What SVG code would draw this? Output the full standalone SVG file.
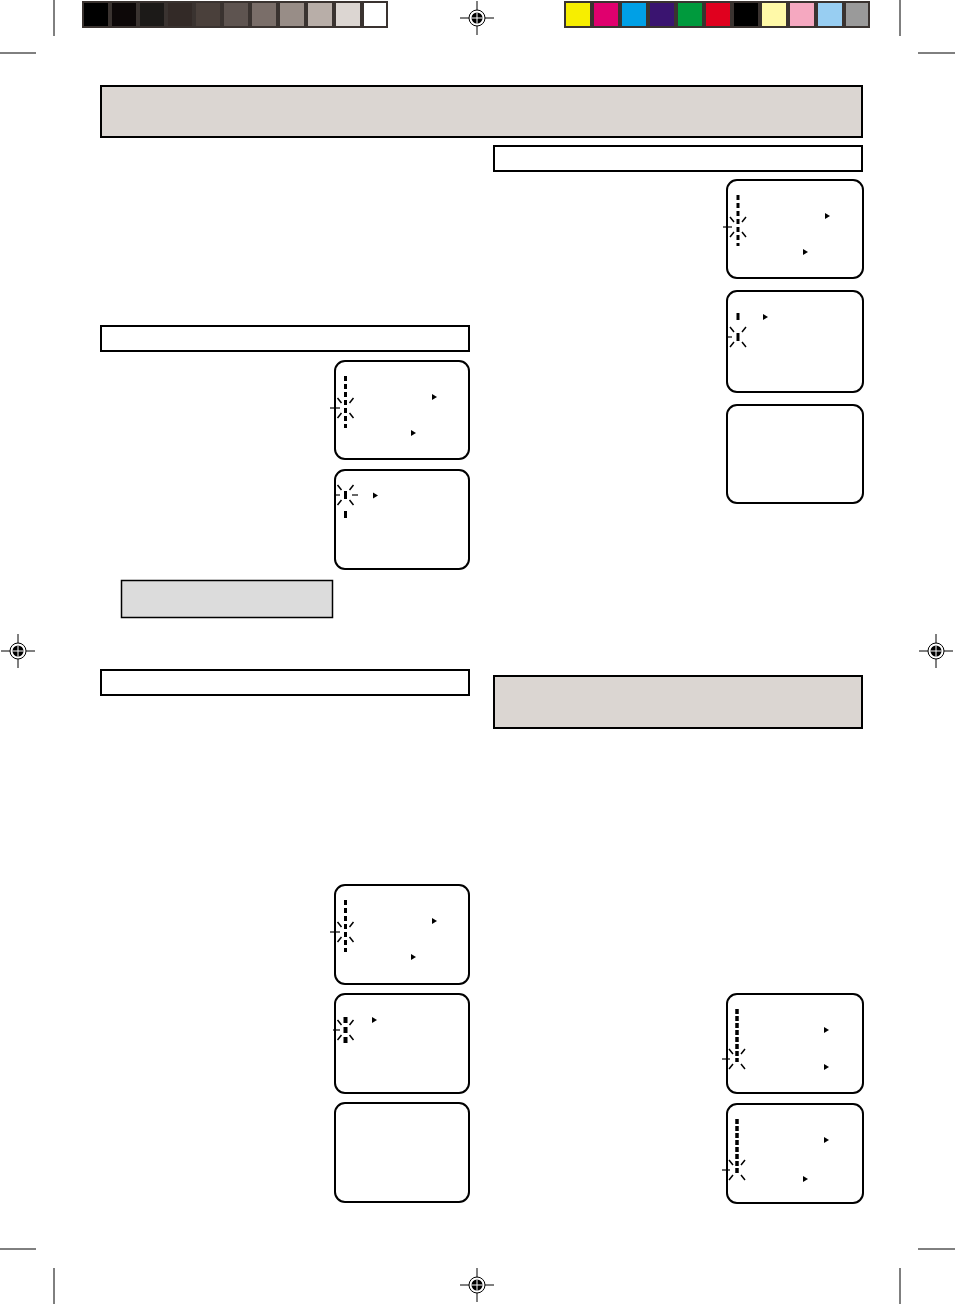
<svg xmlns="http://www.w3.org/2000/svg" xmlns:xlink="http://www.w3.org/1999/xlink" width="955" height="1304" viewBox="0 0 955 1304">
<style>
.crop{stroke:#000;stroke-width:1;fill:none}
.hdr{fill:#dbd6d2;stroke:#000;stroke-width:2}
.sec{fill:#fff;stroke:#000;stroke-width:2}
.scr{fill:#fff;stroke:#000;stroke-width:2}
.bar{stroke:#000;stroke-width:3;stroke-dasharray:5 3;fill:none}
.seg{stroke:#000;stroke-width:3;fill:none}
.ray{stroke:#000;stroke-width:1.5;fill:none}
.tick{stroke:#000;stroke-width:1.2;fill:none}
.tri{fill:#000}
</style>
<defs>
<g id="reg">
<line x1="-17" y1="0" x2="17" y2="0" stroke="#000" stroke-width="1"/>
<line x1="0" y1="-17" x2="0" y2="17" stroke="#000" stroke-width="1"/>
<circle r="8" fill="#fff" stroke="#000" stroke-width="1"/>
<circle r="5.5" fill="#000"/>
<line x1="-5.5" y1="0" x2="5.5" y2="0" stroke="#fff" stroke-width="1"/>
<line x1="0" y1="-5.5" x2="0" y2="5.5" stroke="#fff" stroke-width="1"/>
</g>
<g id="rays">
<path class="ray" d="M-4,-5 L-8,-10 M4,-5 L8,-10 M-4,5 L-8,10 M4,5 L8,10"/>
</g>
<path id="tri" class="tri" d="M0,-3 L5,0 L0,3Z"/>
</defs>

<g id="colorbars">
<rect x="82" y="1" width="306" height="27" fill="#3a3330"/>
<rect x="84" y="3" width="24" height="23" fill="#000"/>
<rect x="112" y="3" width="24" height="23" fill="#0d0808"/>
<rect x="140" y="3" width="24" height="23" fill="#1c1a18"/>
<rect x="168" y="3" width="24" height="23" fill="#332a27"/>
<rect x="196" y="3" width="24" height="23" fill="#4a403b"/>
<rect x="224" y="3" width="24" height="23" fill="#5e5450"/>
<rect x="252" y="3" width="24" height="23" fill="#7a6e69"/>
<rect x="280" y="3" width="24" height="23" fill="#988d87"/>
<rect x="308" y="3" width="24" height="23" fill="#b8aea8"/>
<rect x="336" y="3" width="24" height="23" fill="#dcd6d2"/>
<rect x="364" y="3" width="22" height="23" fill="#fff"/>
<rect x="564" y="1" width="306" height="27" fill="#3a3330"/>
<rect x="566" y="3" width="24" height="23" fill="#f7ee00"/>
<rect x="594" y="3" width="24" height="23" fill="#e0006e"/>
<rect x="622" y="3" width="24" height="23" fill="#00a0e6"/>
<rect x="650" y="3" width="24" height="23" fill="#3a1470"/>
<rect x="678" y="3" width="24" height="23" fill="#009a3d"/>
<rect x="706" y="3" width="24" height="23" fill="#e0001e"/>
<rect x="734" y="3" width="24" height="23" fill="#000"/>
<rect x="762" y="3" width="24" height="23" fill="#fff9a8"/>
<rect x="790" y="3" width="24" height="23" fill="#f5a8c0"/>
<rect x="818" y="3" width="24" height="23" fill="#98cef2"/>
<rect x="846" y="3" width="22" height="23" fill="#9a9a9a"/>
</g>

<g id="cropmarks">
<path class="crop" d="M54,0 V36 M0,53 H36 M900,0 V36 M918,53 H955 M54,1268 V1304 M0,1249 H36 M900,1268 V1304 M918,1249 H955"/>
</g>

<g id="registration">
<use xlink:href="#reg" href="#reg" transform="translate(477,18)"/>
<use xlink:href="#reg" href="#reg" transform="translate(18,651)"/>
<use xlink:href="#reg" href="#reg" transform="translate(936,651)"/>
<use xlink:href="#reg" href="#reg" transform="translate(477,1285)"/>
</g>

<g id="header-main"><rect class="hdr" x="101" y="86" width="761" height="51"/></g>
<g id="section-left-1"><rect class="sec" x="101" y="326" width="368" height="25"/></g>
<g id="section-left-2"><rect class="sec" x="101" y="670" width="368" height="25"/></g>
<g id="section-right-1"><rect class="sec" x="494" y="146" width="368" height="25"/></g>
<g id="header-right"><rect class="hdr" x="494" y="676" width="368" height="52"/></g>
<g id="note-box"><rect x="121.5" y="580.5" width="211" height="37" fill="#dcdcdc" stroke="#000" stroke-width="1.5"/></g>

<g id="screen-L1">
<rect class="scr" x="335" y="361" width="134" height="98" rx="10"/>
<line class="bar" x1="345.5" y1="376" x2="345.5" y2="428"/>
<use xlink:href="#rays" href="#rays" transform="translate(345.5,408)"/>
<line class="tick" x1="330" y1="408" x2="340" y2="408"/>
<use xlink:href="#tri" href="#tri" transform="translate(432,397)"/>
<use xlink:href="#tri" href="#tri" transform="translate(411,433)"/>
</g>

<g id="screen-L2">
<rect class="scr" x="335" y="470" width="134" height="99" rx="10"/>
<line class="seg" x1="345.5" y1="491" x2="345.5" y2="499"/>
<line class="seg" x1="345.5" y1="511" x2="345.5" y2="518"/>
<use xlink:href="#rays" href="#rays" transform="translate(345.5,495)"/>
<line class="tick" x1="335" y1="495" x2="340" y2="495"/>
<line class="tick" x1="352" y1="495" x2="358" y2="495"/>
<use xlink:href="#tri" href="#tri" transform="translate(373,495.5)"/>
</g>

<g id="screen-L3">
<rect class="scr" x="335" y="885" width="134" height="99" rx="10"/>
<line class="bar" x1="345.5" y1="900" x2="345.5" y2="952"/>
<use xlink:href="#rays" href="#rays" transform="translate(345.5,932)"/>
<line class="tick" x1="330" y1="932" x2="340" y2="932"/>
<use xlink:href="#tri" href="#tri" transform="translate(432,921)"/>
<use xlink:href="#tri" href="#tri" transform="translate(411,957)"/>
</g>

<g id="screen-L4">
<rect class="scr" x="335" y="994" width="134" height="99" rx="10"/>
<line class="bar" style="stroke-width:4;stroke-dasharray:6 4" x1="345.5" y1="1017" x2="345.5" y2="1043"/>
<use xlink:href="#rays" href="#rays" transform="translate(345.5,1030)"/>
<line class="tick" x1="333" y1="1030" x2="340" y2="1030"/>
<use xlink:href="#tri" href="#tri" transform="translate(372,1020)"/>
</g>

<g id="screen-L5">
<rect class="scr" x="335" y="1103" width="134" height="99" rx="10"/>
</g>

<g id="screen-R1">
<rect class="scr" x="727" y="180" width="136" height="98" rx="10"/>
<line class="bar" x1="738" y1="195" x2="738" y2="246"/>
<use xlink:href="#rays" href="#rays" transform="translate(738,227)"/>
<line class="tick" x1="723" y1="227" x2="732" y2="227"/>
<use xlink:href="#tri" href="#tri" transform="translate(825,216)"/>
<use xlink:href="#tri" href="#tri" transform="translate(803,252)"/>
</g>

<g id="screen-R2">
<rect class="scr" x="727" y="291" width="136" height="101" rx="10"/>
<line class="seg" x1="738" y1="313" x2="738" y2="320"/>
<line class="seg" x1="738" y1="333" x2="738" y2="341"/>
<use xlink:href="#rays" href="#rays" transform="translate(738,337)"/>
<line class="tick" x1="726" y1="337" x2="732" y2="337"/>
<use xlink:href="#tri" href="#tri" transform="translate(763,317)"/>
</g>

<g id="screen-R3">
<rect class="scr" x="727" y="405" width="136" height="98" rx="10"/>
</g>

<g id="screen-R4">
<rect class="scr" x="727" y="994" width="136" height="99" rx="10"/>
<line class="bar" style="stroke-width:3.5;stroke-dasharray:5 2" x1="737" y1="1009" x2="737" y2="1062"/>
<use xlink:href="#rays" href="#rays" transform="translate(737,1059)"/>
<line class="tick" x1="722" y1="1059" x2="730" y2="1059"/>
<use xlink:href="#tri" href="#tri" transform="translate(824,1030)"/>
<use xlink:href="#tri" href="#tri" transform="translate(824,1067)"/>
</g>

<g id="screen-R5">
<rect class="scr" x="727" y="1104" width="136" height="99" rx="10"/>
<line class="bar" style="stroke-width:3.5;stroke-dasharray:5 2" x1="737" y1="1119" x2="737" y2="1173"/>
<use xlink:href="#rays" href="#rays" transform="translate(737,1170)"/>
<line class="tick" x1="722" y1="1170" x2="730" y2="1170"/>
<use xlink:href="#tri" href="#tri" transform="translate(824,1140)"/>
<use xlink:href="#tri" href="#tri" transform="translate(803,1179)"/>
</g>

<g id="connectors"></g>
</svg>
